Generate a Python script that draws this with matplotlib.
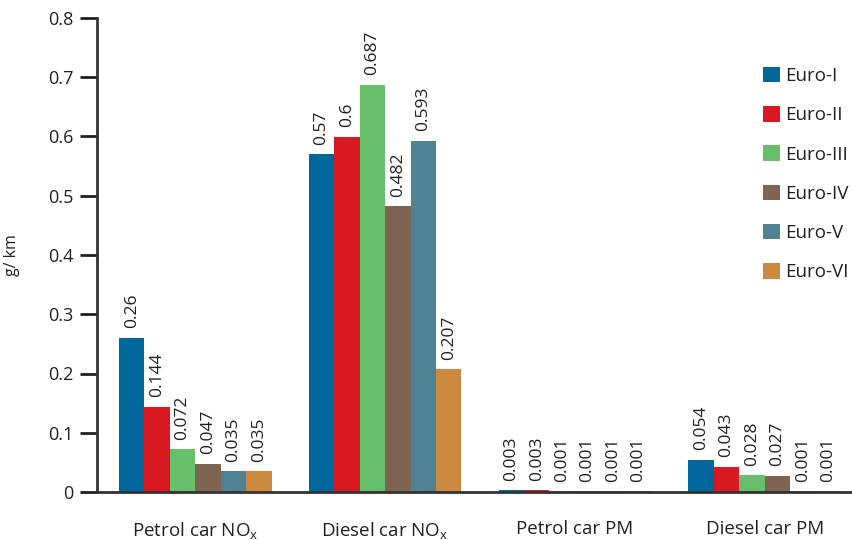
import matplotlib
matplotlib.use("Agg")
import matplotlib.pyplot as plt
import numpy as np

categories = ["Petrol car NO$_\\mathregular{x}$", "Diesel car NO$_\\mathregular{x}$", "Petrol car PM", "Diesel car PM"]
series_names = ["Euro-I", "Euro-II", "Euro-III", "Euro-IV", "Euro-V", "Euro-VI"]
euro_i = [0.26, 0.57, 0.003, 0.054]
euro_ii = [0.144, 0.6, 0.003, 0.043]
euro_iii = [0.072, 0.687, 0.001, 0.028]
euro_iv = [0.047, 0.482, 0.001, 0.027]
euro_v = [0.035, 0.593, 0.001, 0.001]
euro_vi = [0.035, 0.207, 0.001, 0.001]
label_texts = [
    ["0.26", "0.57", "0.003", "0.054"],
    ["0.144", "0.6", "0.003", "0.043"],
    ["0.072", "0.687", "0.001", "0.028"],
    ["0.047", "0.482", "0.001", "0.027"],
    ["0.035", "0.593", "0.001", "0.001"],
    ["0.035", "0.207", "0.001", "0.001"],
]
colors = ["#00679b", "#d81921", "#67bf6b", "#7f6451", "#4f8394", "#cc8a40"]

plt.rcParams['font.family'] = ['Open Sans', 'DejaVu Sans']
plt.rcParams['mathtext.fontset'] = 'custom'
plt.rcParams['mathtext.rm'] = 'Open Sans'
plt.rcParams['mathtext.it'] = 'Open Sans'

fig = plt.figure(figsize=(8.52, 5.4), dpi=100)
ax = fig.add_axes([97/852, 48/540, 1 - 97/852, (492-18)/540])

series = [euro_i, euro_ii, euro_iii, euro_iv, euro_v, euro_vi]
x = np.arange(len(categories))
w = 0.134
text_color = "#231f20"
for i, (vals, name, c) in enumerate(zip(series, series_names, colors)):
    pos = x + (i - 2.5) * w
    ax.bar(pos, vals, width=w, color=c, label=name, zorder=2)
    for xp, v, t in zip(pos, vals, label_texts[i]):
        ax.annotate(t, (xp, v), xytext=(0, 7), textcoords="offset points",
                    rotation=90, ha="center", va="bottom", fontsize=12.5, color=text_color)

ax.set_ylim(0, 0.8)
ax.set_xlim(-0.518, 3.46)
ax.set_yticks(np.arange(0, 0.81, 0.1))
ax.set_yticklabels(["0"] + [f"{v:.1f}" for v in np.arange(0.1, 0.81, 0.1)])
ax.set_xticks(x)
ax.set_xticklabels(categories)
ax.tick_params(axis='x', length=0, pad=20, labelsize=13.5, colors=text_color)
ax.tick_params(axis='y', length=12, width=2, labelsize=13, colors=text_color, pad=5)
for s in ["top", "right"]:
    ax.spines[s].set_visible(False)
ax.spines["left"].set_linewidth(2)
ax.spines["bottom"].set_linewidth(2)
ax.spines["left"].set_color("#333333")
ax.spines["bottom"].set_color("#333333")
ax.set_ylabel("g/ km", fontsize=11.5, color=text_color, labelpad=20)

leg = ax.legend(loc="upper left", bbox_to_anchor=(0.882, 0.897), frameon=False,
                fontsize=13.5, handlelength=0.9, handleheight=0.9, labelspacing=1.12,
                handletextpad=0.3, borderpad=0, borderaxespad=0)
for t in leg.get_texts():
    t.set_color(text_color)

fig.savefig("out.png", dpi=100)
